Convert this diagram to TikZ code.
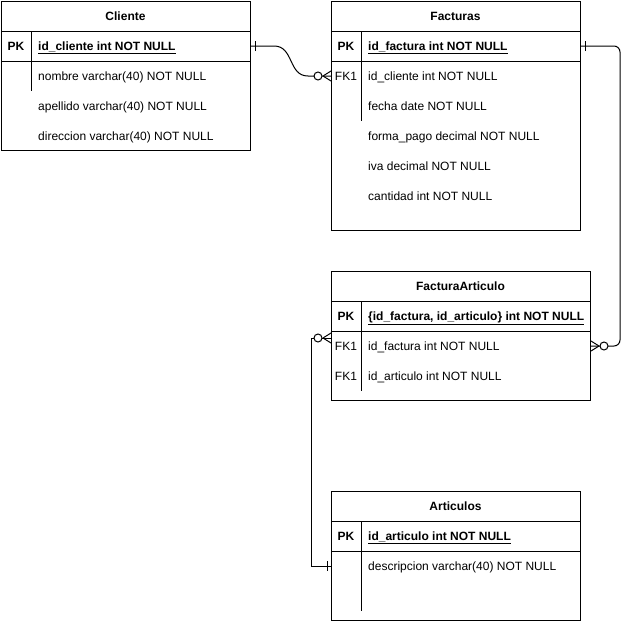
\documentclass[tikz,border=0pt]{standalone}
\usepackage{fontspec}
\setmainfont{Liberation Sans}
\begin{document}
\begin{tikzpicture}[
  x=1pt, y=-1pt,
  tbl/.style={draw, line width=1pt, rectangle, anchor=north west, inner sep=0pt},
  txt/.style={font=\fontsize{12}{14}\selectfont, inner sep=0pt,
              text height=10pt, text depth=2pt},
  ttl/.style={txt, font=\fontsize{12}{14}\selectfont\bfseries},
  key/.style={txt},
  fld/.style={txt, anchor=west},
  sep/.style={line width=1pt},
  conn/.style={line width=1pt},
  zeromany/.pic={
    \draw[conn] (-8,0) -- (0,-5) (-8,0) -- (0,5);
    \draw[conn, fill=white] (-13,0) circle[radius=4pt];
  },
  onebar/.pic={
    \draw[conn] (-4,-5) -- (-4,5);
  }
]
\useasboundingbox (0,0) rectangle (630,621);

% Cliente
\node[tbl, minimum width=249pt, minimum height=149pt] (cliente) at (1,1) {};
\node[ttl] (clititle) at (125.5,16) {Cliente};
\draw[sep] (1,31) -- (250,31) (1,61) -- (250,61) (31,31) -- (31,91);
\node[key, font=\fontsize{12}{14}\selectfont\bfseries] (clipkkey) at (16,46) {PK};
\node[fld] (clipk)  at (38,46)  {\underline{\textbf{id\_cliente int NOT NULL}}};
\node[fld] (clinom) at (38,76)  {nombre varchar(40) NOT NULL};
\node[fld] (cliape) at (38,106) {apellido varchar(40) NOT NULL};
\node[fld] (clidir) at (38,136) {direccion varchar(40) NOT NULL};

% Facturas
\node[tbl, minimum width=249pt, minimum height=229pt] (facturas) at (331,1) {};
\node[ttl] (factitle) at (455.5,16) {Facturas};
\draw[sep] (331,31) -- (580,31) (331,61) -- (580,61) (361,31) -- (361,121);
\node[key, font=\fontsize{12}{14}\selectfont\bfseries] (facpkkey) at (346,46) {PK};
\node[key] (facfkkey) at (346,76) {FK1};
\node[fld] (facpk)  at (368,46)  {\underline{\textbf{id\_factura int NOT NULL}}};
\node[fld] (facfk)  at (368,76)  {id\_cliente int NOT NULL};
\node[fld] (facfec) at (368,106) {fecha date NOT NULL};
\node[fld] (facfor) at (368,136) {forma\_pago decimal NOT NULL};
\node[fld] (faciva) at (368,166) {iva decimal NOT NULL};
\node[fld] (faccan) at (368,196) {cantidad int NOT NULL};

% FacturaArticulo
\node[tbl, minimum width=259pt, minimum height=129pt] (fa) at (331,271) {};
\node[ttl] (fatitle) at (460.5,286) {FacturaArticulo};
\draw[sep] (331,301) -- (590,301) (331,331) -- (590,331) (361,301) -- (361,391);
\node[key, font=\fontsize{12}{14}\selectfont\bfseries] (fapkkey) at (346,316) {PK};
\node[key] (fafkkey1) at (346,346) {FK1};
\node[key] (fafkkey2) at (346,376) {FK1};
\node[fld] (fapk)  at (368,316) {\underline{\textbf{\{id\_factura, id\_articulo\} int NOT NULL}}};
\node[fld] (fafk1) at (368,346) {id\_factura int NOT NULL};
\node[fld] (fafk2) at (368,376) {id\_articulo int NOT NULL};

% Articulos
\node[tbl, minimum width=249pt, minimum height=129pt] (articulos) at (331,491) {};
\node[ttl] (arttitle) at (455.5,506) {Articulos};
\draw[sep] (331,521) -- (580,521) (331,551) -- (580,551) (361,521) -- (361,611);
\node[key, font=\fontsize{12}{14}\selectfont\bfseries] (artpkkey) at (346,536) {PK};
\node[fld] (artpk)  at (368,536) {\underline{\textbf{id\_articulo int NOT NULL}}};
\node[fld] (artdes) at (368,566) {descripcion varchar(40) NOT NULL};

% relaciones
\coordinate (rt) at (620,0);
\coordinate (lt) at (311,0);
\draw[conn] (cliente.east |- clipk) -- ++(23,0)
  .. controls +(20,0) and +(-20,0) .. ([xshift=-23pt]facturas.west |- facfk)
  -- (facturas.west |- facfk);
\draw[conn, rounded corners=6pt] (facturas.east |- facpk) -| (rt |- fafk1) -- (fa.east |- fafk1);
\draw[conn] (fa.west |- 0,338) -| (lt |- artdes) -- (articulos.west |- artdes);

\path (cliente.east |- clipk) pic[rotate=180] {onebar};
\path (facturas.west |- facfk) pic {zeromany};
\path (facturas.east |- facpk) pic[rotate=180] {onebar};
\path (fa.east |- fafk1) pic[rotate=180] {zeromany};
\path (fa.west |- 0,338) pic {zeromany};
\path (articulos.west |- artdes) pic {onebar};
\end{tikzpicture}
\end{document}
